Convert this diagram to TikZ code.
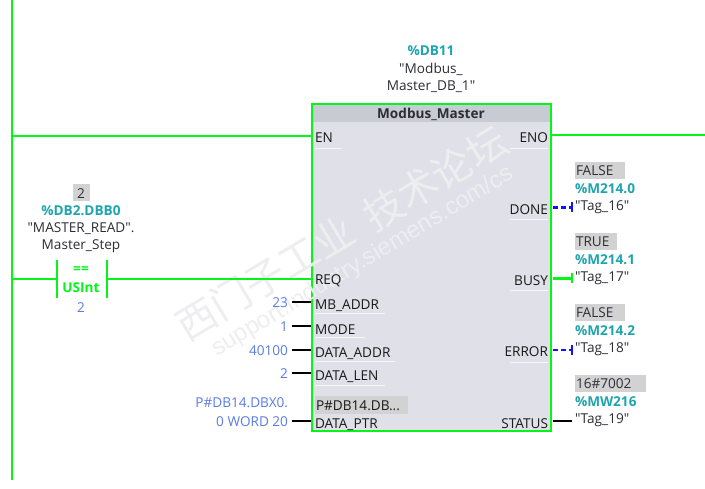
\documentclass[tikz,border=0pt]{standalone}
\usepackage{fontspec}
\newfontfamily\plcfont{Open Sans}
\newfontfamily\cjk{Noto Sans CJK SC}
\newfontfamily\wmsans{Liberation Sans}
\definecolor{plcgreen}{RGB}{5,245,25}
\definecolor{plcteal}{RGB}{30,165,175}
\definecolor{plcblue}{RGB}{90,125,225}
\definecolor{plctext}{RGB}{45,45,55}
\definecolor{fbbody}{RGB}{224,224,232}
\definecolor{fbhead}{RGB}{200,202,212}
\definecolor{valbg}{RGB}{210,210,210}
\definecolor{wmark}{RGB}{238,238,240}
\definecolor{wline}{RGB}{20,20,240}
\tikzset{
  x=1pt,y=-1pt,
  txt/.style={font=\plcfont\fontsize{13.6}{15}\selectfont,text=plctext,inner sep=0pt,outer sep=0pt,yshift=-1.2pt},
  pin/.style={txt,text=black!90},
  pinl/.style={pin,anchor=west},
  pinr/.style={pin,anchor=east},
  opnd/.style={txt,anchor=west},
  addr/.style={txt,text=plcteal,font=\plcfont\fontsize{13.6}{15}\selectfont\bfseries},
  konst/.style={txt,text=plcblue,anchor=east},
  rail/.style={draw=plcgreen,line width=2.4pt},
  wire/.style={draw=black,line width=2.2pt},
  bwire/.style={draw=wline,line width=2.2pt,dash pattern=on 5pt off 3pt},
  sep/.style={draw=white!70!fbbody,line width=0.8pt},
  vbox/.style={fill=valbg,inner sep=0pt},
  wm/.style={text=wmark,inner sep=0pt,rotate=31},
}
\begin{document}
\begin{tikzpicture}
\useasboundingbox (0,0) rectangle (705,489);
\fill[white] (0,0) rectangle (705,489);
% power rail
\coordinate (railtop) at (12,0);
\coordinate (railbot) at (12,480);
\draw[rail] (railtop) -- (railbot);
% block body
\node[draw=plcgreen,line width=2.8pt,fill=fbbody,minimum width=239pt,minimum height=327pt,inner sep=0pt,outer sep=0pt,anchor=north west] (fb) at (312,104) {};
\fill[fbhead] (313.4,105.4) rectangle (549.6,122);
\node[txt,font=\plcfont\fontsize{13.6}{15}\selectfont\bfseries] (fbname) at (431,113) {Modbus\_Master};
% watermark
\node[wm,font=\cjk\fontsize{40}{40}\selectfont] (wm1) at (265,278) {西门子工业};
\node[wm,font=\cjk\fontsize{40}{40}\selectfont] (wm2) at (435,178) {技术论坛};
\node[wm,font=\wmsans\fontsize{24}{24}\selectfont] (wm3) at (363,262) {support.industry.siemens.com/cs};
% instance
\node[addr] (inst) at (431,49) {\%DB11};
\node[txt] (instA) at (431,68) {"Modbus\_};
\node[txt] (instB) at (431,85) {Master\_DB\_1"};
% input pins
\foreach \nm/\lbl/\yy in {en/EN/136.5,req/REQ/280,mb/MB\_ADDR/304,mode/MODE/328,daddr/DATA\_ADDR/352,dlen/DATA\_LEN/375,dptr/DATA\_PTR/423}{
  \node[pinl] (p\nm) at (315,\yy) {\lbl};
}
\foreach \yy/\xe in {148/342,313/385,337/365,361/395,385/385}{
  \draw[sep] (315,\yy) -- (\xe,\yy);
}
% output pins
\node[pinr] (peno) at (548,136.5) {ENO};
\node[pinr] (pdone) at (548,208.5) {DONE};
\node[pinr] (pbusy) at (548,279.5) {BUSY};
\node[pinr] (perror) at (548,350.5) {ERROR};
\node[pinr] (pstatus) at (548,422.5) {STATUS};
\foreach \yy in {148,219,290,362}{
  \draw[sep] (510,\yy) -- (548,\yy);
}
% wires at EN, ENO, REQ
\coordinate (enL) at (311,136);
\coordinate (enoR) at (705,135);
\coordinate (enoL) at (552,135);
\coordinate (reqL) at (311,279);
\draw[rail] (railtop |- enL) -- (enL);
\draw[rail] (enoL) -- (enoR);
% comparator
\coordinate (cmpL) at (57,279);
\coordinate (cmpR) at (107,279);
\draw[rail] (12,279) -- (cmpL);
\draw[rail] (cmpL |- 0,260) -- (cmpL |- 0,298);
\draw[rail] (cmpR |- 0,260) -- (cmpR |- 0,298);
\draw[rail] (cmpR) -- (reqL);
\node[txt,text=plcgreen,font=\plcfont\fontsize{13.6}{15}\selectfont\bfseries] (cmpop) at (81,268.5) {==};
\node[txt,text=plcgreen,font=\plcfont\fontsize{13.6}{15}\selectfont\bfseries] (cmpty) at (81,286.5) {USInt};
\node[txt,text=plcblue] (cmpval) at (81,306.5) {2};
\node[vbox,minimum width=17pt,minimum height=17pt] (cmpbg) at (81,192.5) {};
\node[txt] (cmpcur) at (81,192) {2};
\node[addr] (cmpad) at (81,209) {\%DB2.DBB0};
\node[txt] (cmpsA) at (81,227) {"MASTER\_READ".};
\node[txt] (cmpsB) at (81,245) {Master\_Step};
% input constants and wires
\foreach \nm/\val/\yy in {mb/23/302,mode/1/326,daddr/40100/350,dlen/2/373,dptr/0 WORD 20/421}{
  \node[konst] (k\nm) at (288,\yy-1) {\val};
  \draw[wire] (292,\yy) -- (311,\yy);
}
\node[konst] (kptr) at (288,401) {P\#DB14.DBX0.};
\node[vbox,minimum width=93pt,minimum height=18pt,anchor=west] (ptrbg) at (315,405) {};
\node[pinl] (ptrval) at (316,404.5) {P\#DB14.DB...};
% outputs
\newcommand{\outblock}[6]{%
  \node[vbox,minimum width=#3,minimum height=17pt,anchor=west] (v#1) at (575,#2) {};
  \node[opnd] (c#1) at (576,#2-1) {#4};
  \node[addr,anchor=west] (a#1) at (575,#2+17) {#5};
  \node[opnd] (t#1) at (575,#2+35.5) {#6};
}
\outblock{done}{170.5}{50pt}{FALSE}{\%M214.0}{"Tag\_16"}
\outblock{busy}{241.5}{42pt}{TRUE}{\%M214.1}{"Tag\_17"}
\outblock{err}{312.5}{50pt}{FALSE}{\%M214.2}{"Tag\_18"}
\outblock{stat}{383.5}{71pt}{16\#7002}{\%MW216}{"Tag\_19"}
% output wires
\coordinate (doneA) at (553,207.5);
\coordinate (doneB) at (572,207.5);
\coordinate (busyA) at (553,278.5);
\coordinate (busyB) at (572,278.5);
\coordinate (errA) at (553,350);
\coordinate (errB) at (572,350);
\coordinate (statA) at (553,421);
\coordinate (statB) at (572,421);
\draw[bwire] (doneA) -- (doneB);
\draw[draw=wline,line width=2pt] (572,202.5) -- (572,212.5);
\draw[rail] (busyA) -- (busyB);
\draw[rail] (572,273.5) -- (572,283.5);
\draw[bwire] (errA) -- (errB);
\draw[draw=wline,line width=2pt] (572,345) -- (572,355);
\draw[wire] (statA) -- (statB);
\end{tikzpicture}
\end{document}
